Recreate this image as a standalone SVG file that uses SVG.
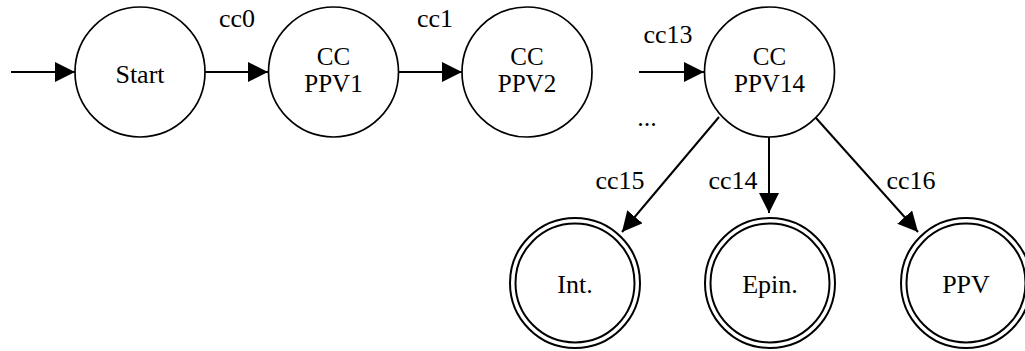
<svg xmlns="http://www.w3.org/2000/svg" width="1025" height="351" viewBox="0 0 1025 351">
  <style>
    .state { fill: #fff; stroke: #000; stroke-width: 1.7; }
    .final { fill: #fff; stroke: #000; stroke-width: 2; }
    .edge { fill: none; stroke: #000; stroke-width: 2; marker-end: url(#arrow); }
    .lbl { font-family: 'Liberation Serif', 'Times New Roman', serif; font-size: 26px; fill: #000; text-anchor: middle; }
    .two { font-size: 25px; }
  </style>
  <defs>
    <marker id="arrow" markerUnits="userSpaceOnUse" markerWidth="20" markerHeight="20" refX="20" refY="10" orient="auto">
      <path d="M0,0 L20,10 L0,20 Z" fill="#000"/>
    </marker>
  </defs>
  <rect width="1025" height="351" fill="#fff"/>

  <!-- transitions -->
  <g id="connectors">
    <line class="edge" x1="11" y1="72" x2="75" y2="72"/>
    <line class="edge" x1="205" y1="72" x2="268" y2="72"/>
    <line class="edge" x1="399" y1="72" x2="462" y2="72"/>
    <line class="edge" x1="639" y1="72" x2="704" y2="72"/>
    <line class="edge" x1="719" y1="117" x2="622" y2="232"/>
    <line class="edge" x1="769" y1="137" x2="769" y2="213"/>
    <line class="edge" x1="816" y1="118" x2="918" y2="232"/>
    <text class="lbl" x="237" y="27">cc0</text>
    <text class="lbl" x="435" y="27">cc1</text>
    <text class="lbl" x="668" y="43">cc13</text>
    <text class="lbl" x="647" y="126">...</text>
    <text class="lbl" x="620" y="189">cc15</text>
    <text class="lbl" x="733" y="189">cc14</text>
    <text class="lbl" x="911" y="189">cc16</text>
  </g>

  <g id="start">
    <circle class="state" cx="140" cy="72" r="65"/>
    <text class="lbl" x="140" y="83">Start</text>
  </g>
  <g id="ppv1">
    <circle class="state" cx="333.5" cy="72" r="65"/>
    <text class="lbl two" x="333.5" y="65">CC<tspan x="333.5" dy="27">PPV1</tspan></text>
  </g>
  <g id="ppv2">
    <circle class="state" cx="527" cy="72" r="65"/>
    <text class="lbl two" x="527" y="65">CC<tspan x="527" dy="27">PPV2</tspan></text>
  </g>
  <g id="ppv14">
    <circle class="state" cx="769.5" cy="72" r="65"/>
    <text class="lbl two" x="769.5" y="65">CC<tspan x="769.5" dy="27">PPV14</tspan></text>
  </g>

  <g id="int">
    <circle class="final" cx="575" cy="283" r="65"/>
    <circle class="final" cx="575" cy="283" r="59.5"/>
    <text class="lbl" x="575" y="293">Int.</text>
  </g>
  <g id="epin">
    <circle class="final" cx="770" cy="283" r="65"/>
    <circle class="final" cx="770" cy="283" r="59.5"/>
    <text class="lbl" x="770" y="293">Epin.</text>
  </g>
  <g id="ppv">
    <circle class="final" cx="966" cy="283" r="65"/>
    <circle class="final" cx="966" cy="283" r="59.5"/>
    <text class="lbl" x="966" y="293">PPV</text>
  </g>
</svg>
